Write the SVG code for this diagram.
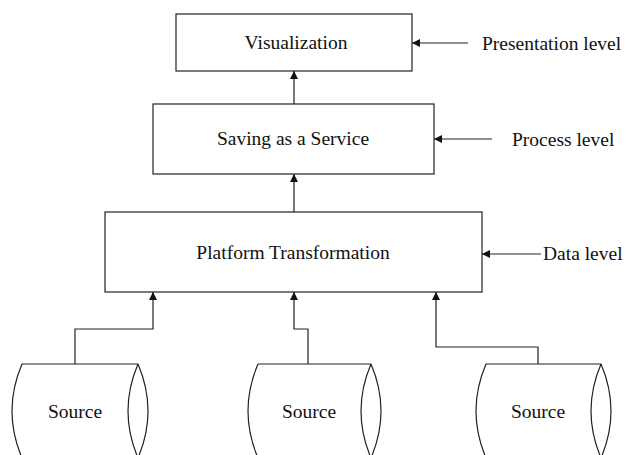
<svg xmlns="http://www.w3.org/2000/svg" width="627" height="455" viewBox="0 0 627 455">
  <style>
    .box { fill: #fff; stroke: #222; stroke-width: 1.2; }
    .line { fill: none; stroke: #222; stroke-width: 1.2; }
    .lbl { font-family: "Liberation Serif", "Times New Roman", serif; font-size: 19.5px; fill: #111; }
    .mid { text-anchor: middle; }
  </style>
  <defs>
    <marker id="arrow" viewBox="0 0 10 10" refX="10" refY="5" markerWidth="8" markerHeight="8" markerUnits="userSpaceOnUse" orient="auto">
      <path d="M0,0 L10,5 L0,10 z" fill="#111"/>
    </marker>
  </defs>
  <rect width="627" height="455" fill="#fff"/>

  <g id="visualization">
    <rect class="box" x="176" y="14" width="236" height="57"/>
    <text class="lbl mid" x="296" y="49">Visualization</text>
  </g>
  <g id="saas">
    <rect class="box" x="153" y="104" width="281" height="70"/>
    <text class="lbl mid" x="293" y="145">Saving as a Service</text>
  </g>
  <g id="platform">
    <rect class="box" x="105" y="212" width="377" height="80"/>
    <text class="lbl mid" x="293" y="259">Platform Transformation</text>
  </g>

  <g id="source1">
    <path class="line" d="M22,364 Q2,411 22,458 M22,364 L138,364 M138,364 Q118,411 138,458 M138,364 Q158,411 138,458"/>
    <text class="lbl mid" x="75" y="418">Source</text>
  </g>
  <g id="source2">
    <path class="line" d="M258,364 Q238,411 258,458 M258,364 L371,364 M371,364 Q351,411 371,458 M371,364 Q391,411 371,458"/>
    <text class="lbl mid" x="309" y="418">Source</text>
  </g>
  <g id="source3">
    <path class="line" d="M486,364 Q466,411 486,458 M486,364 L601,364 M601,364 Q581,411 601,458 M601,364 Q621,411 601,458"/>
    <text class="lbl mid" x="538" y="418">Source</text>
  </g>

  <g id="level-labels">
    <text class="lbl" x="482" y="50">Presentation level</text>
    <text class="lbl" x="512" y="146">Process level</text>
    <text class="lbl" x="543" y="260">Data level</text>
  </g>

  <g id="connectors">
    <path class="line" d="M294,104 L294,71" marker-end="url(#arrow)"/>
    <path class="line" d="M294,212 L294,174" marker-end="url(#arrow)"/>
    <path class="line" d="M75,364 L75,329 L153,329 L153,292" marker-end="url(#arrow)"/>
    <path class="line" d="M308,364 L308,329 L294,329 L294,292" marker-end="url(#arrow)"/>
    <path class="line" d="M538,364 L538,347 L436,347 L436,292" marker-end="url(#arrow)"/>
    <path class="line" d="M468,43 L412,43" marker-end="url(#arrow)"/>
    <path class="line" d="M492,139 L434,139" marker-end="url(#arrow)"/>
    <path class="line" d="M541,254 L482,254" marker-end="url(#arrow)"/>
  </g>
</svg>
